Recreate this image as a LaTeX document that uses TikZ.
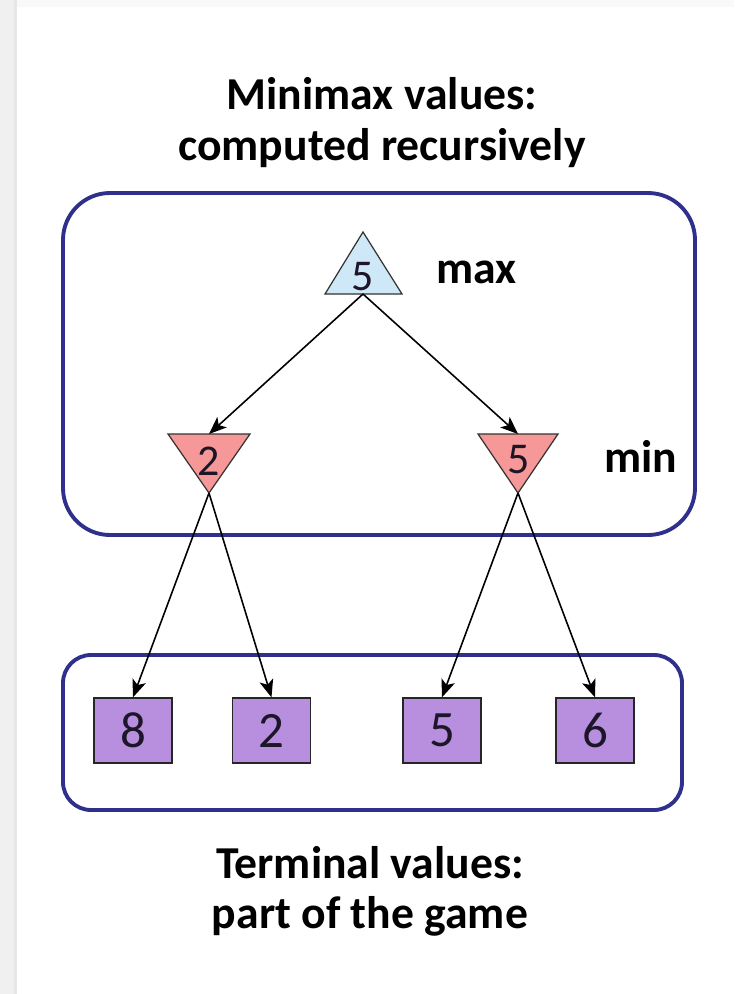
\documentclass[tikz,border=0pt]{standalone}
\usepackage{fontspec}
\setmainfont{Carlito}
\usetikzlibrary{arrows.meta}

\definecolor{framenavy}{RGB}{46,48,140}
\definecolor{maxfill}{RGB}{206,232,248}
\definecolor{minfill}{RGB}{246,152,152}
\definecolor{leaffill}{RGB}{184,142,222}
\definecolor{digitink}{RGB}{28,22,40}

\begin{document}
\begin{tikzpicture}[x=0.02cm, y=-0.02cm,
  frame/.style={draw=framenavy, line width=2.2pt},
  tri/.style={draw=black!80, line width=0.7pt, line join=miter},
  edge/.style={draw=black, line width=0.9pt, -{Stealth[length=10pt, width=8pt, inset=2.5pt]}},
  caption/.style={font=\bfseries\fontsize{26}{31}\selectfont, anchor=base, inner sep=0pt},
  level/.style={font=\bfseries\fontsize{26}{31}\selectfont, anchor=base west, inner sep=0pt},
  tridigit/.style={font=\fontsize{25}{30}\selectfont, text=digitink, anchor=base, inner sep=0pt},
  leaf/.style={draw=black!85, fill=leaffill, line width=0.8pt, minimum width=1.56cm,
    minimum height=1.3cm, inner sep=0pt, font=\fontsize{29}{34}\selectfont, text=digitink}
]
% page and its shaded edges
\useasboundingbox (0,0) rectangle (734,994);
\fill[white] (0,0) rectangle (734,994);
\fill[gray!5] (17,0) rectangle (734,7);
\fill[gray!12] (0,0) rectangle (17,994);
\fill[gray!19] (14,0) rectangle (17,994);

% captions
\node[caption] (t1) at (382,109) {Minimax values:};
\node[caption] (t2) at (382,160) {computed recursively};
\node[caption] (b1) at (370,878) {Terminal values:};
\node[caption] (b2) at (370,928) {part of the game};

% group frames
\draw[frame, rounded corners=0.94cm] (63,193) rectangle (695,535);
\draw[frame, rounded corners=0.56cm] (63,655) rectangle (682,810);

% max node
\coordinate (maxtop) at (363,232);
\coordinate (maxbase) at (363,294);
\filldraw[tri, fill=maxfill] (maxtop) -- (402,294) -- (325,294) -- cycle;
\node[tridigit] (maxv) at (363,290) {5};
\node[level] (maxlabel) at (436,283) {max};

% min nodes
\coordinate (minAtop) at (209,434);
\coordinate (minAtip) at (209,493);
\filldraw[tri, fill=minfill] (168,434) -- (250,434) -- (minAtip) -- cycle;
\node[tridigit] (minAv) at (209,475) {2};

\coordinate (minBtop) at (518,434);
\coordinate (minBtip) at (518,493);
\filldraw[tri, fill=minfill] (478,434) -- (558,434) -- (minBtip) -- cycle;
\node[tridigit] (minBv) at (519,473) {5};
\node[level] (minlabel) at (604,472) {min};

% terminal nodes
\node[leaf] (l1) at (133,730.5) {8};
\node[leaf] (l2) at (271.5,730.5) {2};
\node[leaf] (l3) at (442,730.5) {5};
\node[leaf] (l4) at (595,730.5) {6};

% connectors
\draw[edge] (maxbase) -- (minAtop);
\draw[edge] (maxbase) -- (minBtop);
\draw[edge] (minAtip) -- (l1.north);
\draw[edge] (minAtip) -- (l2.north);
\draw[edge] (minBtip) -- (l3.north);
\draw[edge] (minBtip) -- (l4.north);
\end{tikzpicture}
\end{document}
